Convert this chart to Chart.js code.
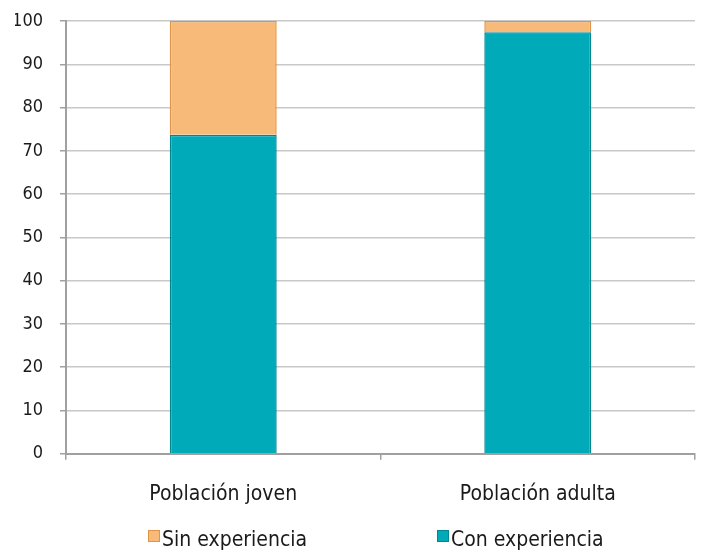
<!DOCTYPE html>
<html>
<head>
<meta charset="utf-8">
<script src="https://cdn.jsdelivr.net/npm/chart.js@4/dist/chart.umd.min.js"></script>
<style>
  html, body { margin: 0; padding: 0; background: #fff; }
  #wrap { position: relative; width: 701px; height: 552px; }
  #legend {
    position: absolute; left: 148px; top: 527px;
    display: flex;
    font-family: "DejaVu Sans Condensed", "DejaVu Sans", sans-serif;
    font-size: 21px; color: #1a1a1a; line-height: 25px;
  }
  #legend span.item { display: flex; align-items: flex-start; }
  #legend span.item:first-child { width: 289px; }
  #legend span.box { display: inline-block; width: 10px; height: 10px; margin-right: 2px; border: 1px solid; margin-top: 3px; }
</style>
</head>
<body>
<div id="wrap">
  <canvas id="chart" width="701" height="552"></canvas>
  <div id="legend"></div>
</div>
<script>
const categories = ['Población joven', 'Población adulta'];
const conExperiencia = [73.7, 97.4];
const sinExperiencia = [26.3, 2.6];
const yTicks = [0, 10, 20, 30, 40, 50, 60, 70, 80, 90, 100];

const FONT = '"DejaVu Sans Condensed", "DejaVu Sans", sans-serif';
const TEXT = '#1a1a1a';

const datasets = [
  {
    label: 'Con experiencia',
    data: conExperiencia,
    backgroundColor: '#00aab8',
    borderColor: '#00868f',
    borderWidth: 1.5,
  },
  {
    label: 'Sin experiencia',
    data: sinExperiencia,
    backgroundColor: '#f8ba78',
    borderColor: '#e0944a',
    borderWidth: 1.5,
  },
];

const chart = new Chart(document.getElementById('chart'), {
  type: 'bar',
  data: { labels: categories, datasets },
  options: {
    responsive: false,
    animation: false,
    layout: { padding: { top: 21, right: 6, left: 15, bottom: 23 } },
    datasets: { bar: { categoryPercentage: 1, barPercentage: 0.34 } },
    plugins: {
      legend: { display: false },
      tooltip: { enabled: false },
    },
    scales: {
      x: {
        stacked: true,
        grid: {
          offset: true,
          drawOnChartArea: true,
          color: (ctx) => (ctx.index === 2 ? '#c8c8c8' : 'rgba(0,0,0,0)'),
          tickColor: '#a0a0a0',
          tickLength: 6,
          lineWidth: 1.5,
        },
        border: { color: '#a0a0a0', width: 2 },
        ticks: { color: TEXT, font: { family: FONT, size: 21 }, padding: 22 },
      },
      y: {
        stacked: true,
        min: 0,
        max: 100,
        afterBuildTicks: (axis) => { axis.ticks = yTicks.map((v) => ({ value: v })); },
        afterFit: (axis) => {
          axis.width = 51;
          axis.paddingTop = 0;
          axis.paddingBottom = 0;
        },
        grid: { color: '#c8c8c8', lineWidth: 1.5, tickColor: '#a0a0a0', tickLength: 6 },
        border: { color: '#a0a0a0', width: 2 },
        ticks: { color: TEXT, font: { family: FONT, size: 18 }, padding: 17 },
      },
    },
  },
});

// legend in the reference order: Sin first, Con second
const legendEl = document.getElementById('legend');
[...datasets].reverse().forEach((ds) => {
  const item = document.createElement('span');
  item.className = 'item';
  item.innerHTML = `<span class="box" style="background:${ds.backgroundColor};border-color:${ds.borderColor}"></span>${ds.label}`;
  legendEl.appendChild(item);
});
</script>
</body>
</html>
